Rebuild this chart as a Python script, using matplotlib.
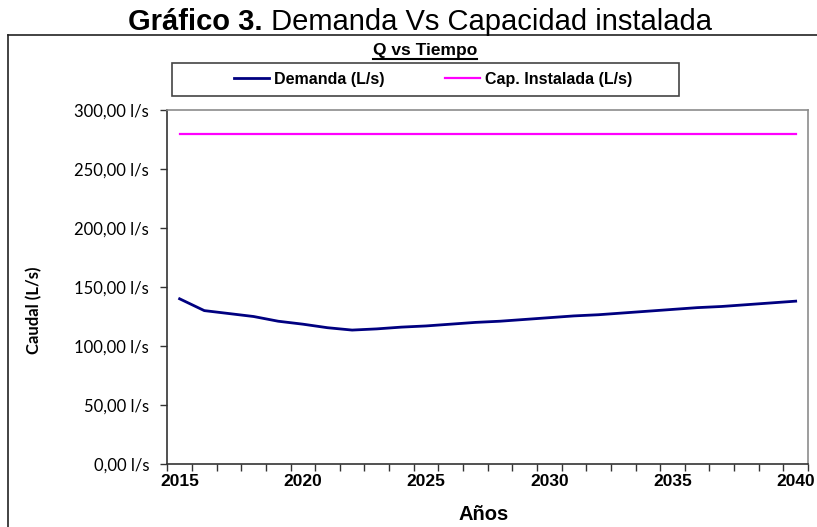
import matplotlib
matplotlib.use("Agg")
import matplotlib.pyplot as plt
from matplotlib.lines import Line2D
from matplotlib.patches import Rectangle
from matplotlib.ticker import FuncFormatter, MultipleLocator, FixedLocator

years = list(range(2015, 2041))
demanda = [140, 130, 127.5, 125, 121, 118.5, 115.5, 113.5, 114.5, 116, 117,
           118.5, 120, 121, 122.5, 124, 125.5, 126.5, 128, 129.5, 131, 132.5,
           133.5, 135, 136.5, 138]
cap_instalada = [280] * len(years)
year_labels = [2015, 2020, 2025, 2030, 2035, 2040]

W, H = 817, 527
arial = "Liberation Sans"

fig = plt.figure(figsize=(W / 100, H / 100), dpi=100)
ax = fig.add_axes([167.3 / W, 1 - 464 / H, (808 - 167.3) / W, (464 - 110) / H])

ax.plot(years, demanda, color="#000080", lw=2.0, label="Demanda (L/s)")
ax.plot(years, cap_instalada, color="#FF00FF", lw=1.6, label="Cap. Instalada (L/s)")

ax.set_xlim(years[0] - 0.5, years[-1] + 0.5)
ax.set_ylim(0, 300)
ax.yaxis.set_major_locator(MultipleLocator(50))
ax.yaxis.set_major_formatter(FuncFormatter(lambda v, p: f"{v:.2f}".replace(".", ",") + " l/s"))

ax.xaxis.set_major_locator(FixedLocator(year_labels))
ax.xaxis.set_minor_locator(FixedLocator([y - 0.5 for y in years] + [years[-1] + 0.5]))
ax.tick_params(axis="x", which="major", length=0, pad=7)
ax.tick_params(axis="x", which="minor", length=5, width=1, color="#333333", direction="out")
ax.tick_params(axis="y", length=5, width=1, color="#333333", direction="out", pad=8)

for lab in ax.get_xticklabels():
    lab.set_family(arial)
    lab.set_fontweight("bold")
    lab.set_fontsize(12.5)
for lab in ax.get_yticklabels():
    lab.set_family("Lato")
    lab.set_fontsize(12)

for s in ["left", "bottom"]:
    ax.spines[s].set_color("#333333")
    ax.spines[s].set_linewidth(1.2)
for s in ["right", "top"]:
    ax.spines[s].set_color("#8c8c8c")
    ax.spines[s].set_linewidth(1.2)

fig.text(484 / W, 1 - 514 / H, "Años", family=arial, fontweight="bold", fontsize=14.5,
         ha="center", va="center")
fig.text(34 / W, 1 - 310 / H, "Caudal (L/s)", rotation=90, family="Lato",
         fontweight="bold", fontsize=12, ha="center", va="center")

# outer chart frame (left and top edges only visible)
fig.add_artist(Line2D([8 / W, 8 / W], [0, 1 - 35 / H], color="#222222", lw=1.2))
fig.add_artist(Line2D([8 / W, 1], [1 - 35 / H, 1 - 35 / H], color="#222222", lw=1.2))

# title
fig.canvas.draw()
r = fig.canvas.get_renderer()
t1 = fig.text(0, 1 - 30 / H, "Gráfico 3.", family=arial, fontweight="bold",
              fontsize=21, va="baseline")
t2 = fig.text(0, 1 - 30 / H, " Demanda Vs Capacidad instalada", family=arial,
              fontsize=21, va="baseline")
w1 = t1.get_window_extent(r).width
w2 = t2.get_window_extent(r).width
x0 = 420 - (w1 + w2) / 2
t1.set_x(x0 / W)
t2.set_x((x0 + w1) / W)

sub = fig.text(425 / W, 1 - 55.5 / H, "Q vs Tiempo", family=arial, fontweight="bold",
               fontsize=12.5, ha="center", va="baseline")
bb = sub.get_window_extent(r)
fig.add_artist(Line2D([bb.x0 / W, bb.x1 / W], [1 - 59 / H, 1 - 59 / H], color="black", lw=1.5))

# legend box
fig.add_artist(Rectangle((172 / W, 1 - 96 / H), (679 - 172) / W, 33 / H,
                         transform=fig.transFigure, fill=False, ec="#444444", lw=1.2))
leg = fig.legend(loc="center left", bbox_to_anchor=(234 / W, 1 - 79.5 / H), ncol=2,
                 frameon=False, borderpad=0, borderaxespad=0, handlelength=2.2,
                 handletextpad=0.3, columnspacing=3.8,
                 prop={"family": arial, "weight": "bold", "size": 11.5})

fig.savefig("out.png", dpi=100)
plt.close(fig)
print("done")
